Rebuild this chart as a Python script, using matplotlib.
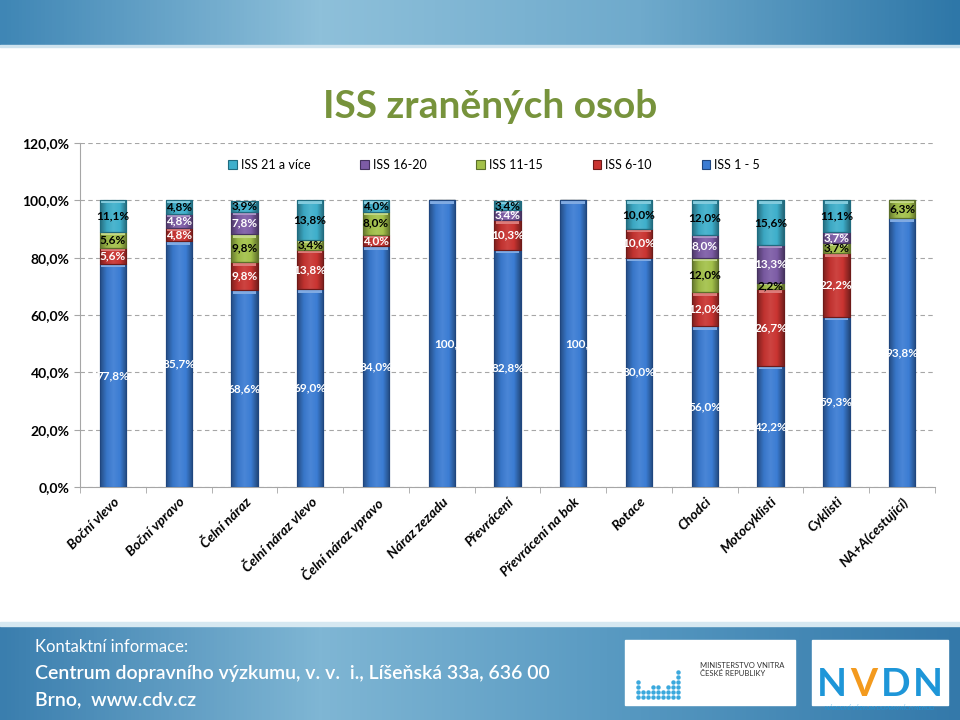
import matplotlib
matplotlib.use("Agg")
import matplotlib.pyplot as plt
import numpy as np
from matplotlib.patches import Rectangle
from matplotlib.colors import LinearSegmentedColormap, to_rgb

plt.rcParams['font.family'] = ['Lato', 'DejaVu Sans']

categories = ["Boční vlevo", "Boční vpravo", "Čelní náraz", "Čelní náraz vlevo",
              "Čelní náraz vpravo", "Náraz zezadu", "Převrácení", "Převrácení na bok",
              "Rotace", "Chodci", "Motocyklisti", "Cyklisti", "NA+A(cestující)"]

iss_1_5 = [77.8, 85.7, 68.6, 69.0, 84.0, 100.0, 82.8, 100.0, 80.0, 56.0, 42.2, 59.3, 93.8]
iss_6_10 = [5.6, 4.8, 9.8, 13.8, 4.0, 0, 10.3, 0, 10.0, 12.0, 26.7, 22.2, 0]
iss_11_15 = [5.6, 0, 9.8, 3.4, 8.0, 0, 0, 0, 0, 12.0, 2.2, 3.7, 6.3]
iss_16_20 = [0, 4.8, 7.8, 0, 0, 0, 3.4, 0, 0, 8.0, 13.3, 3.7, 0]
iss_21 = [11.1, 4.8, 3.9, 13.8, 4.0, 0, 3.4, 0, 10.0, 12.0, 15.6, 11.1, 0]

series_names = ["ISS 1 - 5", "ISS 6-10", "ISS 11-15", "ISS 16-20", "ISS 21 a více"]
series = [iss_1_5, iss_6_10, iss_11_15, iss_16_20, iss_21]
colors = ["#3B7CD3", "#C93431", "#A3C14A", "#7D5CA6", "#3EAFCB"]
edges = ["#1F467F", "#6E1A18", "#5C702A", "#45335F", "#1F6B7F"]
label_colors = ["white", "white", "black", "white", "black"]


def shade(c, f):
    r = np.array(to_rgb(c))
    if f < 1:
        return tuple(r * f)
    return tuple(r + (1 - r) * (f - 1))


fig = plt.figure(figsize=(9.6, 7.2), dpi=100)

# slide background
bg = fig.add_axes([0, 0, 1, 1], zorder=-10)
bg.set_xlim(0, 960)
bg.set_ylim(720, 0)
bg.axis('off')
grad = np.linspace(0, 1, 256).reshape(1, -1)
band = np.vstack([grad, grad])
cm_top = LinearSegmentedColormap.from_list("t", ["#3F86B5", "#8EC0DA", "#6FAACC", "#2E77A8"])
bg.imshow(band, extent=[0, 960, 45, 0], aspect='auto', cmap=cm_top)
bg.add_patch(Rectangle((0, 45), 960, 2, color="#CFE3EE"))
cm_bot = LinearSegmentedColormap.from_list("b", ["#3A7EAE", "#7FB6D4", "#5597C0", "#3479AA"])
bg.imshow(band, extent=[0, 960, 720, 625], aspect='auto', cmap=cm_bot)
bg.add_patch(Rectangle((0, 622), 960, 4, color="#D6E8F1"))
bg.text(35, 647, "Kontaktní informace:", color="white", fontsize=12, va='center')
bg.text(35, 673, "Centrum dopravního výzkumu, v. v.  i., Líšeňská 33a, 636 00",
        color="white", fontsize=14, va='center', fontweight='semibold')
bg.text(35, 700, "Brno,  www.cdv.cz", color="white", fontsize=14, va='center',
        fontweight='semibold')
bg.add_patch(Rectangle((625, 640), 170, 65, color="white"))
bg.add_patch(Rectangle((812, 640), 136, 65, color="white"))
dots = [4, 2, 2, 3, 3, 2, 3, 4, 6]
for c in range(9):
    for r in range(dots[c]):
        bg.plot(638 + c * 5, 697 - r * 5, 'o', color="#3BA9DD", markersize=2.2)
bg.text(700, 665, "MINISTERSTVO VNITRA", fontsize=5.5, color="#333333", va='center')
bg.text(700, 673, "ČESKÉ REPUBLIKY", fontsize=5.5, color="#333333", va='center')
for i, (ch, cc) in enumerate(zip("NVDN", ["#1E96D8", "#F39A1E", "#1E96D8", "#1E96D8"])):
    bg.text(832 + i * 32, 684, ch, fontsize=28, color=cc, fontweight='bold',
            ha='center', va='center')
bg.text(880, 708, "NÁRODNÍ VÝZKUM DOPRAVNÍCH NEHOD", fontsize=4, color="#1E96D8",
        ha='center', va='center')

ax = fig.add_axes([80 / 960, 1 - 487 / 720, 855 / 960, 344 / 720])
x = np.arange(len(categories))
bottom = np.zeros(len(categories))
handles = []
gx = np.linspace(0, 1, 64).reshape(1, -1)
for name, vals, col, ec, lc in zip(series_names, series, colors, edges, label_colors):
    vals = np.array(vals)
    b = ax.bar(x, vals, 0.4, bottom=bottom, color=col, edgecolor=ec, linewidth=0.8,
               label=name, zorder=3)
    handles.append(b)
    cm = LinearSegmentedColormap.from_list(
        "g", [shade(col, 0.62), shade(col, 0.95), shade(col, 1.08), col, shade(col, 0.6)])
    for rect in b.patches:
        if rect.get_height() <= 0:
            continue
        x0, y0 = rect.get_x(), rect.get_y()
        w, h = rect.get_width(), rect.get_height()
        im = ax.imshow(gx, extent=[x0, x0 + w, y0, y0 + h], aspect='auto', cmap=cm,
                       zorder=3.1, interpolation='bilinear')
        im.set_clip_path(rect)
        ax.add_patch(Rectangle((x0 + 0.02, y0 + h - min(1.2, h * 0.3)), w - 0.04,
                               min(1.2, h * 0.3), color=shade(col, 1.35), zorder=3.2,
                               linewidth=0))
        ax.add_patch(Rectangle((x0, y0), w, h, fill=False, edgecolor=ec,
                               linewidth=0.8, zorder=3.3))
    for xi, v, bt in zip(x, vals, bottom):
        if v > 0:
            if v >= 100:
                ax.text(xi - 0.12, bt + v / 2, "100,0", ha='left', va='center',
                        fontsize=8.5, fontweight='bold', color=lc, zorder=4)
            else:
                ax.text(xi, bt + v / 2, f"{v:.1f}%".replace(".", ","), ha='center',
                        va='center', fontsize=8.5, fontweight='bold', color=lc, zorder=4)
    bottom = bottom + vals

ax.set_ylim(0, 120)
ax.set_xlim(-0.5, len(categories) - 0.5)
ax.set_yticks(np.arange(0, 121, 20))
ax.set_yticklabels([f"{t:.1f}%".replace(".", ",") for t in np.arange(0, 121, 20)],
                   fontsize=10, fontweight='bold')
ax.yaxis.grid(True, linestyle=(0, (4, 3)), color="#A6A6A6", linewidth=0.8, zorder=0)
ax.set_xticks(np.arange(len(categories) + 1) - 0.5, minor=True)
ax.set_xticks(x)
ax.set_xticklabels(categories, rotation=45, ha='right', rotation_mode='anchor',
                   fontsize=10, fontweight='bold', style='italic')
ax.tick_params(axis='x', which='major', length=0, pad=6)
ax.tick_params(axis='x', which='minor', length=4, color="#A6A6A6")
ax.tick_params(axis='y', length=4, color="#A6A6A6")
for s in ['top', 'right']:
    ax.spines[s].set_visible(False)
ax.spines['left'].set_color("#A6A6A6")
ax.spines['bottom'].set_color("#A6A6A6")
ax.set_facecolor("none")

leg_h = [handles[4], handles[3], handles[2], handles[1], handles[0]]
fig.legend(leg_h, [h.get_label() for h in leg_h], loc='center',
           bbox_to_anchor=(494 / 960, 1 - 165 / 720), ncol=5, frameon=False,
           fontsize=9, handlelength=0.7, handleheight=0.7, columnspacing=4.0,
           handletextpad=0.3)

fig.text(490 / 960, 1 - 107 / 720, "ISS zraněných osob", ha='center', va='center',
         fontsize=28, fontweight='bold', color="#77933C")

fig.savefig("out.png", dpi=100)
